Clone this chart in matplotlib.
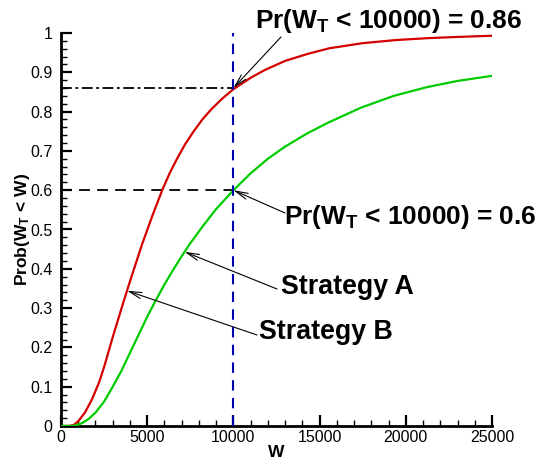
import numpy as np
import matplotlib
matplotlib.use("Agg")
import matplotlib.pyplot as plt
from matplotlib.ticker import MultipleLocator, FuncFormatter

plt.rcParams['font.family'] = ['Liberation Sans', 'DejaVu Sans']
plt.rcParams['mathtext.fontset'] = 'custom'
plt.rcParams['mathtext.rm'] = 'Liberation Sans:bold'
plt.rcParams['mathtext.it'] = 'Liberation Sans:bold'
plt.rcParams['mathtext.bf'] = 'Liberation Sans:bold'

# ---- data ----
# Strategy B (red)
w_b = [0, 500, 750, 1000, 1400, 1800, 2200, 2500, 3000, 3500, 4000, 4700, 5300,
       5870, 6300, 6730, 7200, 7700, 8200, 8700, 9300, 10000, 11000, 11830, 13000,
       14320, 15550, 17470, 19400, 21330, 23000, 25000]
p_b = [0, 0.0, 0.003, 0.012, 0.035, 0.068, 0.110, 0.150, 0.226, 0.298, 0.368,
       0.462, 0.535, 0.600, 0.643, 0.680, 0.717, 0.750, 0.780, 0.805, 0.831,
       0.857, 0.886, 0.906, 0.929, 0.947, 0.961, 0.974, 0.982, 0.987, 0.990, 0.993]

# Strategy A (green)
w_a = [0, 600, 900, 1250, 1600, 2000, 2500, 3000, 3500, 4000, 4500, 5000, 5500,
       6000, 6500, 7000, 7500, 8200, 9000, 10000, 11000, 12000, 13000, 14300,
       15500, 17400, 19300, 21200, 23000, 25000]
p_a = [0, 0.0, 0.002, 0.008, 0.018, 0.034, 0.062, 0.100, 0.140, 0.186, 0.232,
       0.278, 0.320, 0.360, 0.397, 0.432, 0.465, 0.507, 0.552, 0.600, 0.643,
       0.680, 0.711, 0.745, 0.772, 0.810, 0.840, 0.862, 0.878, 0.891]

w_target = 10000
p_b_target = 0.86
p_a_target = 0.6

label_b = r'Pr(W$_\mathrm{T}$ < 10000) = 0.86'
label_a = r'Pr(W$_\mathrm{T}$ < 10000) = 0.6'
name_a = 'Strategy A'
name_b = 'Strategy B'

fig = plt.figure(figsize=(5.4, 4.61), dpi=100)
ax = fig.add_axes([61/540, 1-426/461, 431/540, 393/461])

ax.plot(w_b, p_b, color='#d40000', lw=1.6, zorder=3, solid_joinstyle='round')
ax.plot(w_a, p_a, color='#00cc00', lw=1.6, zorder=3, solid_joinstyle='round')

ax.plot([w_target, w_target], [0, 1], color='#0000b0', lw=1.5, dashes=(5, 3.5), zorder=4)
ax.plot([0, w_target], [p_b_target, p_b_target], color='black', lw=1.3,
        dashes=(6, 2, 1.5, 2), zorder=2)
ax.plot([0, w_target], [p_a_target, p_a_target], color='black', lw=1.3,
        dashes=(6, 4), zorder=2)

ax.set_xlim(0, 25000)
ax.set_ylim(0, 1)
for s in ['top', 'right']:
    ax.spines[s].set_visible(False)
for s in ['left', 'bottom']:
    ax.spines[s].set_linewidth(2)

ax.xaxis.set_major_locator(MultipleLocator(5000))
ax.xaxis.set_minor_locator(MultipleLocator(1000))
ax.yaxis.set_major_locator(MultipleLocator(0.1))
ax.yaxis.set_minor_locator(MultipleLocator(0.02))
ax.yaxis.set_major_formatter(FuncFormatter(lambda v, p: '%g' % round(v, 2)))
ax.tick_params(which='major', direction='in', length=8, width=1.6, labelsize=11.5)
ax.tick_params(which='minor', direction='in', length=4.5, width=1.0)
ax.tick_params(axis='x', pad=3)
ax.tick_params(axis='y', pad=6)

ax.set_xlabel('W', fontsize=12.5, fontweight='bold', labelpad=0)
ax.set_ylabel(r'Prob(W$_\mathrm{T}$ < W)', fontsize=12.5, fontweight='bold', labelpad=-1)

arrow = dict(arrowstyle='->,head_length=0.9,head_width=0.22', color='black', lw=0.8,
             shrinkA=0, shrinkB=0)

def px(x, y):
    return ((x - 61) / 431 * 25000, (426 - y) / 393)

# annotations
ax.annotate('', xy=(w_target, p_b_target), xytext=px(281, 37), arrowprops=arrow,
            annotation_clip=False)
ax.text(*px(255, 21), label_b, fontsize=18.9, fontweight='bold', ha='left', va='center',
        clip_on=False)

ax.annotate('', xy=(w_target, p_a_target), xytext=px(285, 213), arrowprops=arrow,
            annotation_clip=False)
ax.text(*px(284, 217), label_a, fontsize=18.9, fontweight='bold', ha='left', va='center',
        clip_on=False)

wa_pt = 7170
ax.annotate('', xy=(wa_pt, np.interp(wa_pt, w_a, p_a)), xytext=px(277, 289),
            arrowprops=arrow)
ax.text(*px(281, 287), name_a, fontsize=19.3, fontweight='bold', ha='left', va='center')

wb_pt = 3830
ax.annotate('', xy=(wb_pt, np.interp(wb_pt, w_b, p_b)), xytext=px(257, 335),
            arrowprops=arrow)
ax.text(*px(259, 332), name_b, fontsize=19.3, fontweight='bold', ha='left', va='center')

fig.savefig('out.png', dpi=100)
